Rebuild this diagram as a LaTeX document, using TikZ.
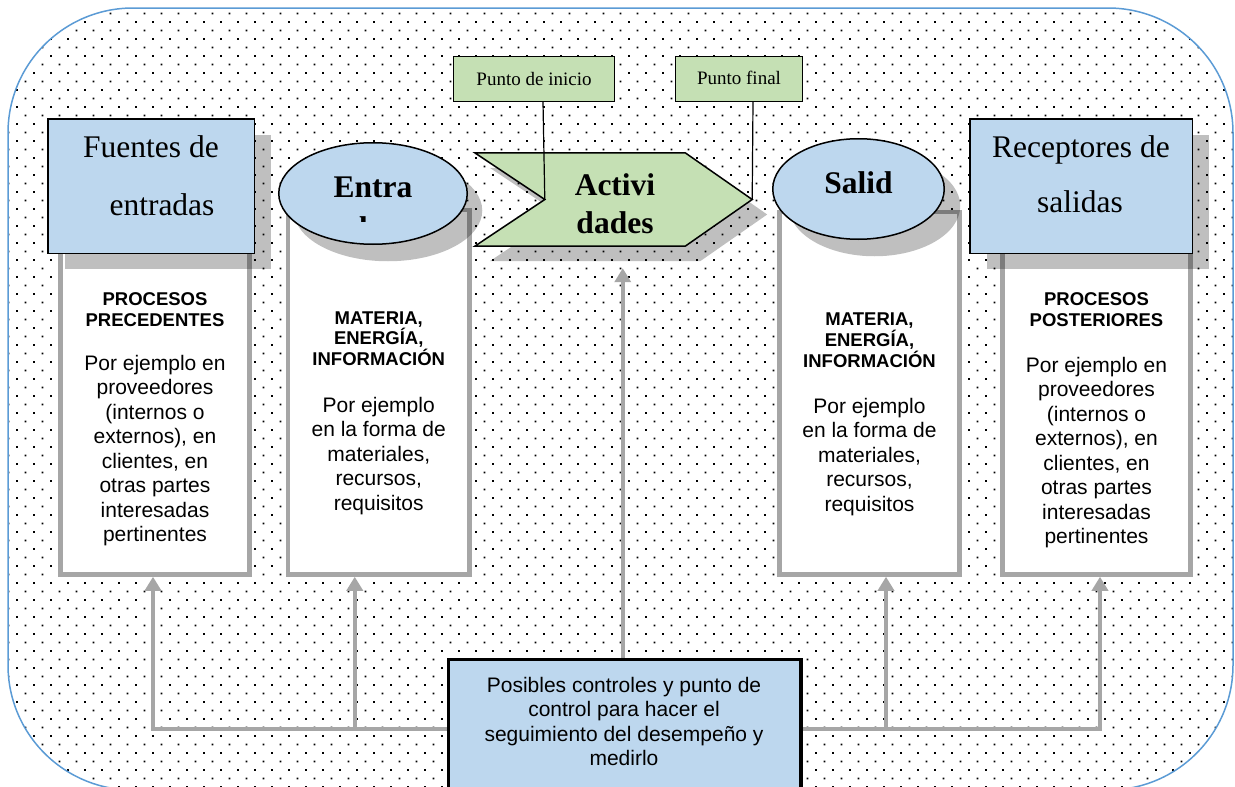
\documentclass[tikz,border=0pt]{standalone}
\usepackage{fontspec}
\setmainfont{Liberation Serif}
\newfontfamily\arialf{Liberation Sans}
\usetikzlibrary{patterns,shadows,arrows.meta,shapes.geometric}
\definecolor{myblue}{HTML}{BDD7EE}
\definecolor{mygreen}{HTML}{C5E0B4}
\definecolor{colgray}{HTML}{A6A6A6}
\definecolor{outlineblue}{HTML}{5B9BD5}
\pgfdeclarepatternformonly{gridots}{\pgfqpoint{-1pt}{-1pt}}{\pgfqpoint{18pt}{18pt}}{\pgfqpoint{17pt}{17pt}}{%
  \pgfpathrectangle{\pgfqpoint{-0.9pt}{-0.9pt}}{\pgfqpoint{1.8pt}{1.8pt}}%
  \pgfpathrectangle{\pgfqpoint{7.6pt}{7.6pt}}{\pgfqpoint{1.8pt}{1.8pt}}%
  \pgfusepath{fill}}
\tikzset{
  colbox/.style={draw=colgray, line width=4.5pt, fill=white, inner sep=0pt},
  bluebox/.style={draw=black, line width=1.5pt, fill=myblue, inner sep=0pt},
  blueell/.style={ellipse, draw=black, line width=1.5pt, fill=myblue, inner sep=0pt},
  greenbox/.style={draw=black, line width=1.3pt, fill=mygreen, inner sep=0pt},
  ctrlbox/.style={draw=black, line width=3.5pt, fill=myblue, inner sep=0pt},
  conn/.style={draw=colgray, line width=4.5pt, -{Triangle[width=16pt,length=14pt]}},
  pin/.style={draw=black, line width=1.2pt},
  hd/.style={font=\arialf\bfseries\fontsize{18.5}{21}\selectfont, anchor=base, inner sep=0pt},
  bd/.style={font=\arialf\fontsize{21}{24.5}\selectfont, anchor=base, inner sep=0pt},
  bigt/.style={font=\fontsize{31.5}{38}\selectfont, anchor=base, inner sep=0pt},
  bigb/.style={font=\bfseries\fontsize{31.5}{38}\selectfont, anchor=base, inner sep=0pt},
  lbl/.style={font=\fontsize{19}{22}\selectfont, anchor=base, inner sep=0pt},
  shad/.style={drop shadow={shadow xshift=#1, fill=black, fill opacity=0.25, draw=none}},
}
\begin{document}
\begin{tikzpicture}[x=1pt,y=-1pt]
\useasboundingbox (0,0) rectangle (1235,787);
% background frame
\path[fill=white, rounded corners=125pt] (8,8) rectangle (1233,790);
\path[pattern=gridots, pattern color=black, rounded corners=125pt] (8,8) rectangle (1233,790);
\draw[outlineblue, line width=1.5pt, rounded corners=125pt] (8,8) rectangle (1233,790);

% white column boxes
\node[colbox, minimum width=189pt, minimum height=344.5pt] (b1) at (155,402.25) {};
\node[colbox, minimum width=181.5pt, minimum height=364.5pt] (b2) at (378.75,392.25) {};
\node[colbox, minimum width=180pt, minimum height=362.5pt] (b4) at (869.5,393.25) {};
\node[colbox, minimum width=188pt, minimum height=344.5pt] (b5) at (1096.5,402.25) {};

% blue header boxes
\node[bluebox, minimum width=206.5pt, minimum height=134.5pt,
  drop shadow={shadow xshift=17pt, shadow yshift=-16pt, fill=black, fill opacity=0.25, draw=none}] (f1) at (151,186) {};
\node[bluebox, minimum width=222.5pt, minimum height=134.5pt,
  drop shadow={shadow xshift=17pt, shadow yshift=-16pt, fill=black, fill opacity=0.25, draw=none}] (f5) at (1081,186) {};
\node[bigt] (f1a) at (151,157) {Fuentes de};
\node[bigt] (f1b) at (162,215) {entradas};
\node[bigt] (f5a) at (1081,157) {Receptores de};
\node[bigt] (f5b) at (1080,212) {salidas};

% ellipses
\node[blueell, minimum width=188.5pt, minimum height=101.5pt,
  drop shadow={shadow xshift=15pt, shadow yshift=-17pt, fill=black, fill opacity=0.25, draw=none}] (e2) at (373,193.5) {};
\node[blueell, minimum width=171.5pt, minimum height=100.5pt,
  drop shadow={shadow xshift=16pt, shadow yshift=-17pt, fill=black, fill opacity=0.25, draw=none}] (e4) at (858.5,189) {};
\node[bigb] (e2t) at (373,197) {Entra};
\begin{scope}
  \clip (330,200) rectangle (420,221);
  \node[bigb] (e2u) at (373,238) {das};
\end{scope}
\node[bigb] (e4t) at (858.5,193) {Salid};

% activities chevron
\node[minimum width=277pt, minimum height=93pt, inner sep=0pt] (act) at (613.5,199.5) {};
\fill[black, fill opacity=0.25] ([shift={(15pt,-15pt)}]act.north west) -- ([shift={(-52pt,-15pt)}]act.north east)
  -- ([shift={(15pt,-15pt)}]act.east) -- ([shift={(-52pt,-15pt)}]act.south east)
  -- ([shift={(15pt,-15pt)}]act.south west) -- ([shift={(85pt,-15pt)}]act.west) -- cycle;
\draw[black, line width=1.5pt, fill=mygreen, line join=miter] (act.north west) -- ([xshift=-67pt]act.north east) -- (act.east)
  -- ([xshift=-67pt]act.south east) -- (act.south west) -- ([xshift=70pt]act.west) -- cycle;
\node[bigb] (acta) at (615,195) {Activi};
\node[bigb] (actb) at (615,233) {dades};

% start / end labels
\node[greenbox, minimum width=161pt, minimum height=45pt] (p1) at (534,79) {};
\node[lbl] (p1t) at (534,85) {Punto de inicio};
\node[greenbox, minimum width=127pt, minimum height=45pt] (p2) at (739,79) {};
\node[lbl] (p2t) at (739,84) {Punto final};
\draw[pin] ([xshift=9pt]p1.south) -- ([xshift=70pt]act.west);
\draw[pin] ([xshift=14pt]p2.south) -- (act.east);

% column texts
\node[hd] (c1h1) at (155,305) {PROCESOS};
\node[hd] (c1h2) at (155,326) {PRECEDENTES};
\foreach \t [count=\i from 0] in {Por ejemplo en, proveedores, {(internos o}, {externos), en}, {clientes, en}, otras partes, interesadas, pertinentes}
  \node[bd] (c1t\i) at (155,370+24.5*\i) {\t};

\node[hd] (c2h1) at (378.75,324) {MATERIA,};
\node[hd] (c2h2) at (378.75,344.5) {ENERGÍA,};
\node[hd] (c2h3) at (378.75,365) {INFORMACIÓN};
\foreach \t [count=\i from 0] in {Por ejemplo, en la forma de, {materiales,}, {recursos,}, requisitos}
  \node[bd] (c2t\i) at (378.75,412+24.5*\i) {\t};

\node[hd] (c4h1) at (869.5,325) {MATERIA,};
\node[hd] (c4h2) at (869.5,346) {ENERGÍA,};
\node[hd] (c4h3) at (869.5,367) {INFORMACIÓN};
\foreach \t [count=\i from 0] in {Por ejemplo, en la forma de, {materiales,}, {recursos,}, requisitos}
  \node[bd] (c4t\i) at (869.5,413+24.5*\i) {\t};

\node[hd] (c5h1) at (1096.5,305) {PROCESOS};
\node[hd] (c5h2) at (1096.5,326) {POSTERIORES};
\foreach \t [count=\i from 0] in {Por ejemplo en, proveedores, {(internos o}, {externos), en}, {clientes, en}, otras partes, interesadas, pertinentes}
  \node[bd] (c5t\i) at (1096.5,372+24.5*\i) {\t};

% control box and connectors
\coordinate (hl) at (447,729);
\coordinate (hr) at (802,729);
\draw[conn] (hl) -| ([xshift=-2pt]b1.south);
\draw[conn] (hl) -| ([xshift=-24pt]b2.south);
\draw[conn] (hr) -| ([xshift=16.5pt]b4.south);
\draw[conn] (hr) -| ([xshift=3.5pt]b5.south);
\node[ctrlbox, minimum width=352.5pt, minimum height=150.5pt] (ctrl) at (624.75,734.75) {};
\draw[conn, shorten >=22pt] ([xshift=-2pt]ctrl.north) -- ([xshift=-2pt]ctrl.north |- act.south);
\foreach \t [count=\i from 0] in {Posibles controles y punto de, control para hacer el, seguimiento del desempeño y, medirlo}
  \node[bd] (k\i) at (624,692+24.5*\i) {\t};
\end{tikzpicture}
\end{document}
